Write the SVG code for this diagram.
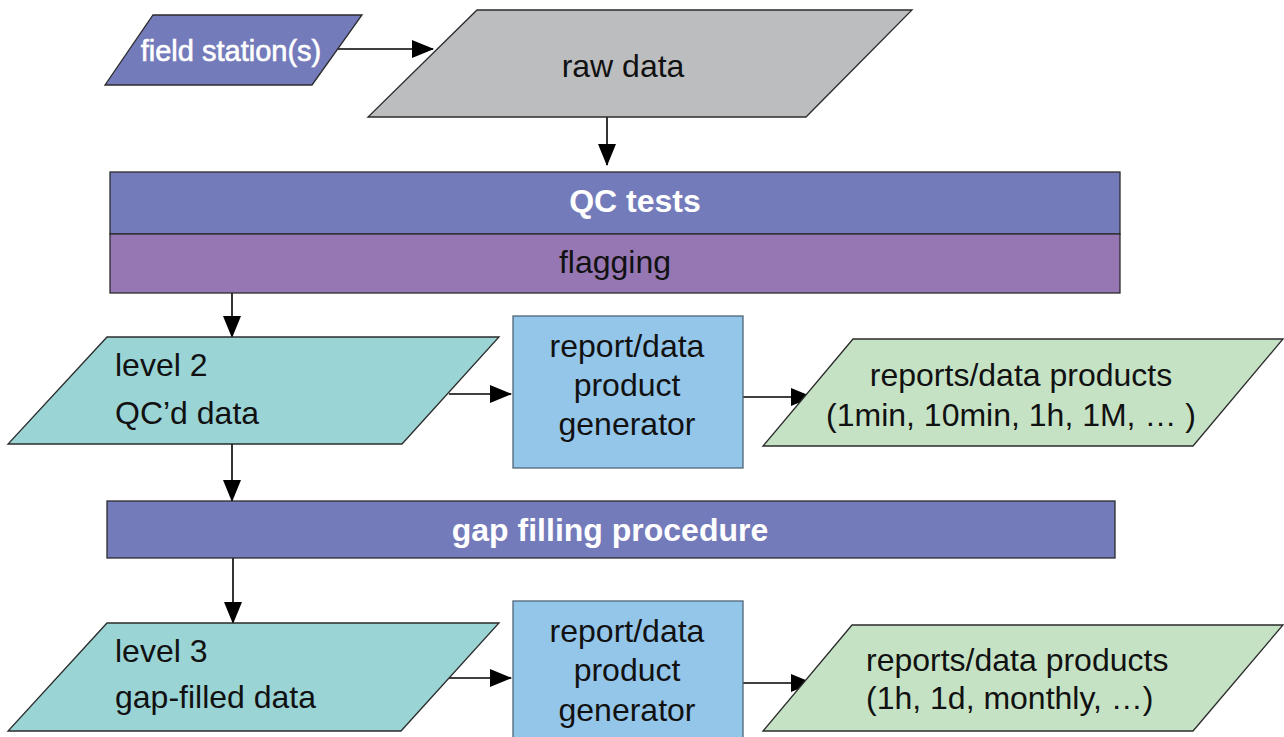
<svg xmlns="http://www.w3.org/2000/svg" width="1284" height="737" viewBox="0 0 1284 737">
  <style>
    .shape { stroke: #2b2b2b; stroke-width: 1.3; }
    .wire { stroke: #000; stroke-width: 1.6; fill: none; marker-end: url(#head); }
    .lbl { font-family: "Liberation Sans", Arial, sans-serif; font-size: 32px; fill: #111; }
    .c { text-anchor: middle; }
    .wb { fill: #fff; font-weight: bold; }
    .station { fill: #747bbb; }
    .raw { fill: #bcbdbf; }
    .qc { fill: #747bbb; }
    .flag { fill: #9677b4; }
    .level { fill: #9ad4d5; }
    .gen { fill: #94c6ea; stroke: #4f6478; }
    .prod { fill: #c5e2c5; }
  </style>
  <defs>
    <marker id="head" markerUnits="userSpaceOnUse" markerWidth="22" markerHeight="18" refX="21" refY="9" orient="auto">
      <path d="M0,0 L22,9 L0,18 Z" fill="#000"/>
    </marker>
  </defs>

  <!-- connectors -->
  <g id="connectors">
    <line class="wire" x1="338" y1="49" x2="433" y2="49"/>
    <line class="wire" x1="607" y1="117" x2="607" y2="165"/>
    <line class="wire" x1="232" y1="293" x2="232" y2="337"/>
    <line class="wire" x1="449" y1="394" x2="511" y2="394"/>
    <line class="wire" x1="743" y1="397" x2="812" y2="397"/>
    <line class="wire" x1="232" y1="444" x2="232" y2="501"/>
    <line class="wire" x1="233" y1="558" x2="233" y2="623"/>
    <line class="wire" x1="449" y1="678" x2="511" y2="678"/>
    <line class="wire" x1="743" y1="683" x2="812" y2="683"/>
  </g>

  <g id="field-stations">
    <polygon class="shape station" points="153,15 362,15 312,85 105,85"/>
    <text class="lbl c" x="231" y="61" style="font-size:29px;fill:#fff;stroke:#fff;stroke-width:0.6">field station(s)</text>
  </g>

  <g id="raw-data">
    <polygon class="shape raw" points="477,10 912,10 806,117 368,117"/>
    <text class="lbl c" x="623" y="77">raw data</text>
  </g>

  <g id="qc-tests">
    <rect class="shape qc" x="110" y="172" width="1010" height="62"/>
    <text class="lbl c wb" x="635" y="212">QC tests</text>
  </g>

  <g id="flagging">
    <rect class="shape flag" x="110" y="234" width="1010" height="59"/>
    <text class="lbl c" x="615" y="273">flagging</text>
  </g>

  <g id="level-2">
    <polygon class="shape level" points="107,337 499,337 402,444 8,444"/>
    <text class="lbl" x="115" y="376">level 2</text>
    <text class="lbl" x="115" y="424">QC’d data</text>
  </g>

  <g id="generator-1">
    <rect class="shape gen" x="513" y="316" width="230" height="152"/>
    <text class="lbl c" x="627" y="357">report/data</text>
    <text class="lbl c" x="627" y="396">product</text>
    <text class="lbl c" x="627" y="435">generator</text>
  </g>

  <g id="products-1">
    <polygon class="shape prod" points="853,339 1283,339 1193,446 763,446"/>
    <text class="lbl c" x="1021" y="386">reports/data products</text>
    <text class="lbl c" x="1011" y="426">(1min, 10min, 1h, 1M, … )</text>
  </g>

  <g id="gap-filling">
    <rect class="shape qc" x="107" y="501" width="1008" height="57"/>
    <text class="lbl c wb" x="610" y="541">gap filling procedure</text>
  </g>

  <g id="level-3">
    <polygon class="shape level" points="107,623 499,623 401,731 8,731"/>
    <text class="lbl" x="115" y="662">level 3</text>
    <text class="lbl" x="115" y="708">gap-filled data</text>
  </g>

  <g id="generator-2">
    <rect class="shape gen" x="513" y="601" width="230" height="140"/>
    <text class="lbl c" x="627" y="642">report/data</text>
    <text class="lbl c" x="627" y="681">product</text>
    <text class="lbl c" x="627" y="721">generator</text>
  </g>

  <g id="products-2">
    <polygon class="shape prod" points="852,625 1283,625 1193,731 763,731"/>
    <text class="lbl" x="866" y="671">reports/data products</text>
    <text class="lbl" x="866" y="709">(1h, 1d, monthly, …)</text>
  </g>
</svg>
